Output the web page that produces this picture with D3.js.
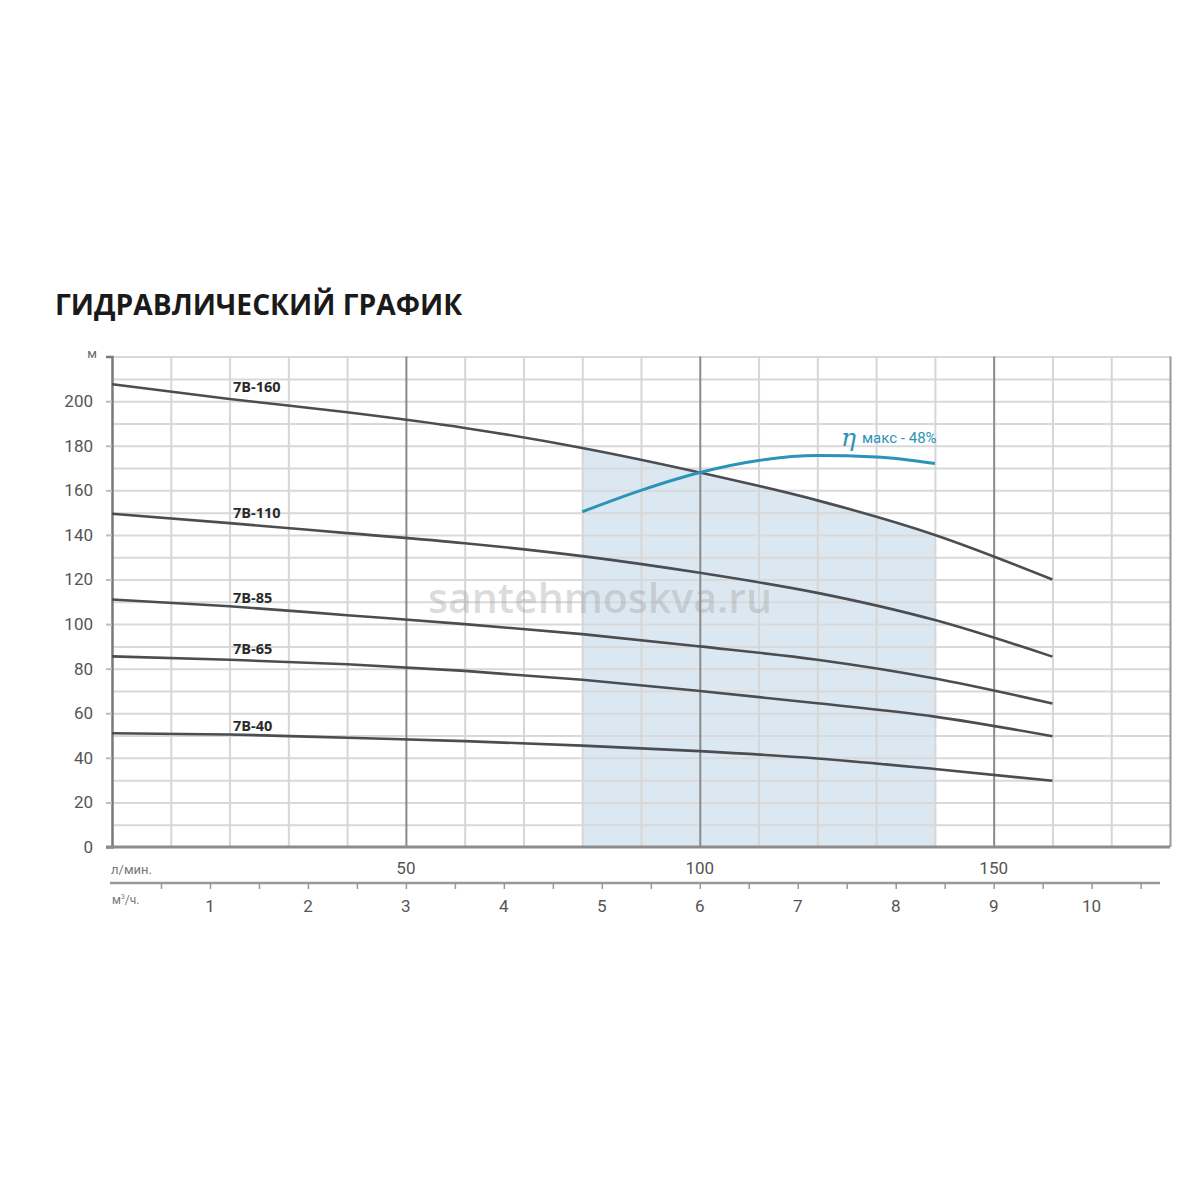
<!DOCTYPE html>
<html><head><meta charset="utf-8">
<script src="https://cdn.jsdelivr.net/npm/d3@7"></script>
<style>
body{margin:0;background:#fff;}
svg{display:block;}
</style></head>
<body>
<svg id="c" width="1200" height="1200"></svg>
<script>
// ---- data ----
const flow = [0, 20, 40, 60, 80, 100, 120, 140, 160];          // л/мин
const h160 = [207.6, 201, 195, 188, 179, 168, 155.5, 140, 120];
const h110 = [149.5, 145.3, 140.8, 136.3, 130.5, 123, 114, 101.8, 85.4];
const h85  = [111, 108, 104, 100, 95.5, 90, 84, 75.6, 64.4];
const h65  = [85.5, 84, 82, 79, 75, 70, 64.5, 58.5, 49.7];
const h40  = [51, 50.5, 49, 47.5, 45.5, 43, 39.7, 35, 29.7];
const seriesNames = ["7В-160", "7В-110", "7В-85", "7В-65", "7В-40"];
const seriesVals = [h160, h110, h85, h65, h40];
const etaFlow = [80, 90, 100, 110, 120, 130, 140];
const etaHead = [150.4, 160, 168, 173.4, 175.6, 175, 172];
const yTicks = [0, 20, 40, 60, 80, 100, 120, 140, 160, 180, 200];
const lpmTicks = [50, 100, 150];
const m3hTicks = [1, 2, 3, 4, 5, 6, 7, 8, 9, 10];
const zoneRange = [80, 140];

// ---- layout ----
const svg = d3.select("#c");
const x = d3.scaleLinear().domain([0, 180]).range([112, 1170]);
const y = d3.scaleLinear().domain([0, 220]).range([847, 356.6]);
const xm = d3.scaleLinear().domain([0, 180 / 16.6667]).range([112, 1170]);

// title
svg.append("text").attr("x", 55).attr("y", 315)
  .attr("font-family", "Open Sans").attr("font-weight", 700).attr("font-size", 28.2)
  .attr("fill", "#1a1a1a").text("ГИДРАВЛИЧЕСКИЙ ГРАФИК");

// shaded zone under 7B-160 between 80 and 140 l/min
const area160 = d3.area().x(d => x(d[0])).y0(y(0)).y1(d => y(d[1])).curve(d3.curveMonotoneX);
const clip = svg.append("clipPath").attr("id", "zone");
clip.append("rect").attr("x", x(zoneRange[0])).attr("y", 0)
  .attr("width", x(zoneRange[1]) - x(zoneRange[0])).attr("height", 1200);
svg.append("path").datum(flow.map((f, i) => [f, h160[i]]))
  .attr("d", area160).attr("fill", "#dce8f1").attr("clip-path", "url(#zone)");

// horizontal grid every 10 m
svg.append("g").attr("transform", `translate(${x(0)},0)`)
  .call(d3.axisLeft(y).tickValues(d3.range(10, 221, 10)).tickSize(-(x(180) - x(0))).tickFormat(""))
  .call(g => g.select(".domain").remove())
  .call(g => g.selectAll("line").attr("stroke", "#d9d9d9").attr("stroke-width", 2));

// vertical grid every 10 l/min
svg.append("g").attr("transform", `translate(0,${y(220)})`)
  .call(d3.axisBottom(x).tickValues(d3.range(10, 181, 10)).tickSize(y(0) - y(220)).tickFormat(""))
  .call(g => g.select(".domain").remove())
  .call(g => g.selectAll(".tick line")
    .attr("stroke", d => (d % 50 === 0) ? "#8a8a8a" : (d === 180 ? "#999" : "#d6d6d6"))
    .attr("stroke-width", 2));

// left axis line with labels
svg.append("g").attr("transform", `translate(${x(0)},0)`)
  .call(d3.axisLeft(y).tickValues(yTicks).tickSize(6).tickPadding(13))
  .call(g => g.select(".domain").attr("stroke", "#7a7a7a").attr("stroke-width", 2.5))
  .call(g => g.selectAll(".tick line").attr("stroke", "#bdbdbd").attr("stroke-width", 2))
  .call(g => g.selectAll("text").attr("font-family", "Roboto").attr("font-size", 17).attr("fill", "#555"));

// bottom axis line at 0
svg.append("line").attr("x1", x(0) - 6).attr("x2", x(180)).attr("y1", y(0)).attr("y2", y(0))
  .attr("stroke", "#8c8c8c").attr("stroke-width", 3);

// "м" unit
svg.append("text").attr("x", 92).attr("y", 358).attr("text-anchor", "middle")
  .attr("font-family", "Roboto").attr("font-size", 13).attr("fill", "#666").text("м");

// l/min labels
svg.append("g").selectAll("text").data(lpmTicks).join("text")
  .attr("x", d => x(d)).attr("y", 874).attr("text-anchor", "middle")
  .attr("font-family", "Roboto").attr("font-size", 17).attr("fill", "#555").text(d => d);
svg.append("text").attr("x", 111).attr("y", 874)
  .attr("font-family", "Roboto").attr("font-size", 13).attr("fill", "#777").text("л/мин.");

// m3/h axis
const mAxis = svg.append("g").attr("transform", "translate(0,883)")
  .call(d3.axisBottom(xm).tickValues(d3.range(0.5, 10.6, 0.5)).tickSize(6).tickFormat(""));
mAxis.select(".domain").attr("d", `M${x(0) - 2},0H1160`).attr("stroke", "#999").attr("stroke-width", 2.5);
mAxis.selectAll(".tick line").attr("stroke", "#999").attr("stroke-width", 1.5);
svg.append("g").selectAll("text").data(m3hTicks).join("text")
  .attr("x", d => xm(d)).attr("y", 912).attr("text-anchor", "middle")
  .attr("font-family", "Roboto").attr("font-size", 17).attr("fill", "#555").text(d => d);
const mu = svg.append("text").attr("x", 112).attr("y", 904)
  .attr("font-family", "Roboto").attr("font-size", 12).attr("fill", "#777");
mu.append("tspan").text("м");
mu.append("tspan").attr("font-size", 7).attr("dy", -5).text("3");
mu.append("tspan").attr("dy", 5).text("/ч.");

// watermark
svg.append("text").attr("x", 600).attr("y", 613).attr("text-anchor", "middle")
  .attr("font-family", "Open Sans").attr("font-weight", 600).attr("font-size", 41)
  .attr("fill", "#9a9a9a").attr("fill-opacity", 0.35)
  .text("santehmoskva.ru");

// pump curves
const line = d3.line().x(d => x(d[0])).y(d => y(d[1])).curve(d3.curveMonotoneX);
seriesVals.forEach((vals, i) => {
  svg.append("path").datum(flow.map((f, j) => [f, vals[j]]))
    .attr("d", line).attr("fill", "none").attr("stroke", "#4a4d52").attr("stroke-width", 2.6);
});

// curve labels
const labelY = [392, 518, 603, 654, 731];
seriesNames.forEach((n, i) => {
  svg.append("text").attr("x", 233).attr("y", labelY[i])
    .attr("font-family", "Open Sans").attr("font-weight", 700).attr("font-size", 14.5)
    .attr("fill", "#2b2b2b").text(n);
});

// efficiency curve
svg.append("path").datum(etaFlow.map((f, j) => [f, etaHead[j]]))
  .attr("d", line).attr("fill", "none").attr("stroke", "#2a93b8").attr("stroke-width", 3);
const et = svg.append("text").attr("x", 841).attr("y", 446).attr("fill", "#2a93b8")
  .attr("font-family", "DejaVu Serif");
et.append("tspan").attr("font-size", 25).attr("font-style", "italic").text("η");
et.append("tspan").attr("font-family", "Roboto").attr("font-size", 15).attr("dx", 6).attr("dy", -3).text("макс - 48%");
</script>
</body></html>
